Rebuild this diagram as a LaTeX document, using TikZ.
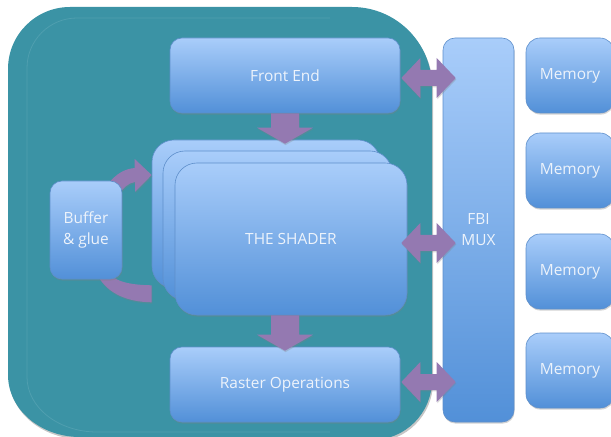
\documentclass[tikz,border=0pt]{standalone}
\usepackage{fontspec}
\setmainfont{Open Sans}
\usetikzlibrary{calc,shadows}
\definecolor{tealbg}{HTML}{3B93A5}
\definecolor{tealline}{HTML}{4F9FAF}
\definecolor{boxtop}{HTML}{A9CDFA}
\definecolor{boxbot}{HTML}{5290D8}
\definecolor{boxline}{HTML}{5E8FCB}
\definecolor{purp}{HTML}{9479B1}
\definecolor{txt}{HTML}{EDF3FB}
\newcommand\dblarrow[2]{%
  \fill[purp,arrowshadow] (#1) -- ++(19,-20) -- ++(0,12) -- ($(#2)+(-19,-8)$) -- ++(0,-12) -- (#2)
    -- ++(-19,20) -- ++(0,-12) -- ($(#1)+(19,8)$) -- ++(0,12) -- cycle;}
\newcommand\fatdown[2]{%
  \fill[purp,arrowshadow] ($(#1)+(-14,0)$) -- ($(#2)+(-14,-16)$) -- ($(#2)+(-28,-16)$) -- (#2)
    -- ($(#2)+(28,-16)$) -- ($(#2)+(14,-16)$) -- ($(#1)+(14,0)$) -- cycle;}
\begin{document}
\begin{tikzpicture}[x=1bp,y=-1bp,
  box/.style={draw=boxline, line width=0.6bp, rounded corners=12bp,
    top color=boxtop, bottom color=boxbot, text=txt, inner sep=0pt,
    align=center, font=\fontsize{15.5}{21}\selectfont,
    drop shadow={shadow xshift=0.6bp, shadow yshift=-1.6bp, opacity=0.35}},
  shaderbox/.style={box, rounded corners=22bp},
  arrowshadow/.style={drop shadow={shadow xshift=0.6bp, shadow yshift=-1.4bp, opacity=0.3}}]
\useasboundingbox (0,0) rectangle (611,437);
\clip (0,0) rectangle (611,437);
% teal background
\fill[tealbg, drop shadow={shadow xshift=1bp, shadow yshift=-2bp, opacity=0.45}]
  (8,375) -- (8,69) arc (180:270:62) -- (352,7) arc (270:360:80) -- (432,380) arc (0:90:60)
  -- (80,437) arc [start angle=90, end angle=180, x radius=72, y radius=62] -- cycle;
\draw[tealline, line width=0.8bp] (330,18) -- (77,18) arc (270:180:50) -- (27,377)
  arc [start angle=180, end angle=90, x radius=70, y radius=55] -- (330,432);
% boxes
\node[box, minimum width=230bp, minimum height=75bp] (fe) at (285,75.5) {Front End};
\node[box, minimum width=230bp, minimum height=75bp] (ro) at (285,384.5) {Raster Operations};
\node[box, minimum width=71bp, minimum height=384bp] (fbi) at (478.5,230) {FBI\\MUX};
\node[box, minimum width=88bp, minimum height=75bp, rounded corners=14bp] (m1) at (570,75.5) {Memory};
\node[box, minimum width=88bp, minimum height=75bp, rounded corners=14bp] (m2) at (570,170.5) {Memory};
\node[box, minimum width=88bp, minimum height=75bp, rounded corners=14bp] (m3) at (570,271.5) {Memory};
\node[box, minimum width=88bp, minimum height=75bp, rounded corners=14bp] (m4) at (570,370.5) {Memory};
\node[shaderbox, minimum width=228bp, minimum height=148bp] (shb) at (266,214) {};
\node[shaderbox, minimum width=229bp, minimum height=149bp] (shm) at (277.5,225.5) {};
\node[shaderbox, minimum width=232bp, minimum height=152bp] (shf) at (291,239) {THE SHADER};
% curved arrows from buffer
\coordinate (ctip) at ($(shb.west |- 0,175)$);
\fill[purp,arrowshadow] (ctip) -- ++(-17,-16) -- ++(0,9) .. controls (124,169) and (116,174) .. (108,184)
  -- (118,196) .. controls (123,188) and (128,183) .. (135,182) -- ++(0,10) -- cycle;
\coordinate (bend) at ($(shb.south west)+(0,14)$);
\fill[purp,arrowshadow] (98,276) .. controls (108,294) and (128,302) .. (bend) -- ++(0,-17)
  .. controls (132,285) and (118,282) .. (112,276) -- cycle;
\node[box, minimum width=72bp, minimum height=98bp] (buf) at (86,230) {Buffer\\\& glue};
% down arrows
\fatdown{fe.south}{$(ro.north |- shb.north)+(0,4)$}
\fatdown{ro.north |- shf.south}{$(ro.north)+(0,4)$}
% double arrows
\coordinate (a1) at ($(fe.east)+(1,2.5)$);
\coordinate (b1) at ($(fbi.west |- a1)+(13,0)$);
\dblarrow{a1}{b1}
\coordinate (a2) at ($(shf.east)+(-6,4)$);
\coordinate (b2) at ($(fbi.west |- a2)+(13,0)$);
\dblarrow{a2}{b2}
\coordinate (a3) at ($(ro.east)+(1,-2.5)$);
\coordinate (b3) at ($(fbi.west |- a3)+(13,0)$);
\dblarrow{a3}{b3}
\end{tikzpicture}
\end{document}
